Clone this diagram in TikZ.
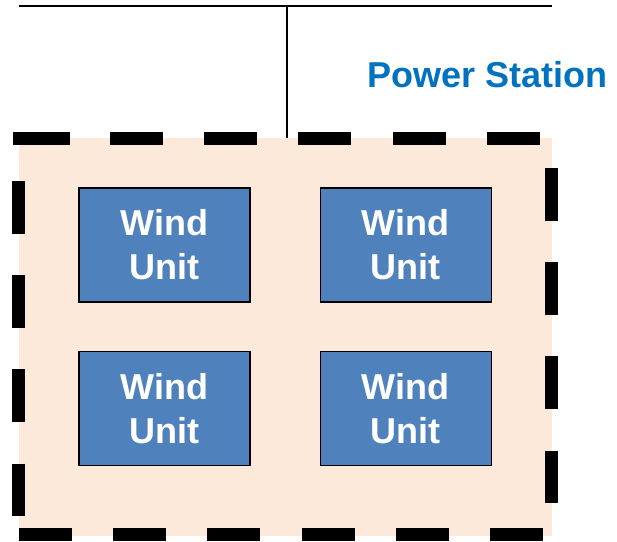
\documentclass[tikz,border=0pt]{standalone}
\usepackage{fontspec}
\setmainfont{Liberation Sans}
\definecolor{peach}{RGB}{253,233,217}
\definecolor{unitblue}{RGB}{79,129,189}
\definecolor{titleblue}{RGB}{0,114,192}
\begin{document}
\begin{tikzpicture}[x=1pt,y=-1pt,
  unitbox/.style={draw=black,line width=1.3pt,fill=unitblue,text=white,
    minimum width=171pt,minimum height=114pt,inner sep=0pt,align=center,
    font=\fontsize{36}{44}\selectfont\bfseries},
  borderdash/.style={line width=13.3pt,line cap=butt,draw=black,
    dash pattern=on 53pt off 41.2pt},
  wire/.style={line width=1.3pt,draw=black}]
\useasboundingbox (0,0) rectangle (617,541);
% station area
\node[fill=peach,minimum width=533pt,minimum height=398.3pt,inner sep=0pt,
  anchor=north west] (station) at (19,137.7) {};
% bus and tap
\coordinate (busL) at (19,6);
\coordinate (busR) at (552,6);
\coordinate (tap) at (287,6);
\draw[wire] (busL) -- (busR);
\draw[wire] (tap) -- (tap |- station.north);
% dashed border
\draw[line width=13.3pt,line cap=butt] (12.5,138.3) -- (70,138.3);
\draw[borderdash] (110,138.3) -- (541,138.3);
\draw[borderdash] (18.8,181) -- (18.8,516);
\draw[borderdash] (551.5,168) -- (551.5,503);
\draw[borderdash] (19,534.7) -- (543,534.7);
% title
\node[anchor=base west,inner sep=0pt,text=titleblue,
  font=\fontsize{36}{43}\selectfont\bfseries] (title) at (367.5,87) {Power Station};
% wind units
\node[unitbox] (u1) at (164.5,245) {Wind\\Unit};
\node[unitbox] (u2) at (405.8,245) {Wind\\Unit};
\node[unitbox] (u3) at (164.5,408.3) {Wind\\Unit};
\node[unitbox] (u4) at (405.8,408.3) {Wind\\Unit};
\end{tikzpicture}
\end{document}
